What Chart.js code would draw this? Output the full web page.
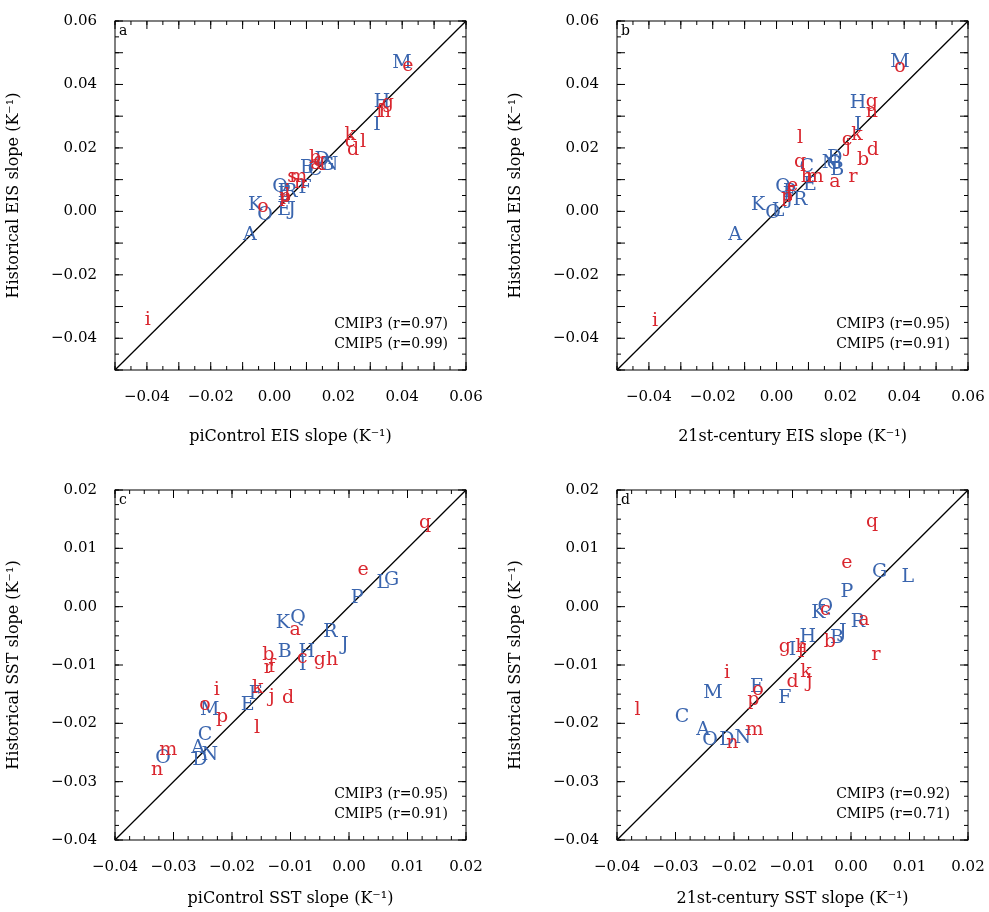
<!DOCTYPE html>
<html>
<head>
<meta charset="utf-8">
<script src="https://cdn.jsdelivr.net/npm/chart.js@4"></script>
<style>
body { margin: 0; background: #fff; width: 989px; height: 912px; position: relative; overflow: hidden; }
canvas { position: absolute; }
</style>
</head>
<body>
<canvas id="ca" style="left:0px;top:0px;width:500px;height:450px"></canvas>
<canvas id="cb" style="left:502px;top:0px;width:487px;height:450px"></canvas>
<canvas id="cc" style="left:0px;top:469px;width:500px;height:443px"></canvas>
<canvas id="cd" style="left:502px;top:469px;width:487px;height:443px"></canvas>
<script>
// CMIP3 models = lowercase (red), CMIP5 models = uppercase (blue)
const eisTicks = [-0.04, -0.02, 0.00, 0.02, 0.04, 0.06];
const sstTicks = [-0.04, -0.03, -0.02, -0.01, 0.00, 0.01, 0.02];

const namesA3 = ['a','b','c','d','e','f','g','h','i','j','k','l','m','n','o','p','q','r','s'];
const xA3 = [0.013, 0.0127, 0.0237, 0.0246, 0.0418, 0.033, 0.0355, 0.0346, -0.0397, 0.004, 0.0237, 0.0277, 0.0074, 0.008, -0.0036, 0.0033, 0.014, 0.003, 0.0055];
const yA3 = [0.015, 0.0168, 0.0219, 0.0193, 0.0458, 0.0313, 0.0342, 0.0313, -0.0342, 0.006, 0.0241, 0.0219, 0.0109, 0.009, 0.0014, 0.0045, 0.016, 0.004, 0.0109];
const namesA5 = ['A','B','C','D','E','F','G','H','I','J','K','L','M','N','O','P','Q','R'];
const xA5 = [-0.0077, 0.0102, 0.0127, 0.0149, 0.003, 0.0096, 0.0164, 0.0337, 0.0321, 0.0055, -0.0061, 0.003, 0.0399, 0.0174, -0.003, 0.003, 0.0017, 0.005];
const yA5 = [-0.0075, 0.0137, 0.0131, 0.0162, 0.0004, 0.0074, 0.0146, 0.0345, 0.0272, 0.0004, 0.002, 0.005, 0.0468, 0.0146, -0.0012, 0.006, 0.0077, 0.006];

const namesB3 = ['a','b','c','d','e','f','g','h','i','j','k','l','m','n','o','p','q','r'];
const xB3 = [0.0183, 0.0271, 0.0221, 0.0302, 0.005, 0.004, 0.0299, 0.0095, -0.0381, 0.0224, 0.0252, 0.0074, 0.012, 0.0299, 0.0387, 0.0033, 0.0074, 0.024];
const yB3 = [0.0093, 0.0162, 0.0225, 0.0193, 0.008, 0.005, 0.0345, 0.0109, -0.0346, 0.0203, 0.0241, 0.0231, 0.0109, 0.0313, 0.0455, 0.0045, 0.0156, 0.0109];
const namesB5 = ['A','B','C','D','E','F','G','H','I','J','K','L','M','N','O','P','Q','R'];
const xB5 = [-0.013, 0.019, 0.0095, 0.0183, 0.0105, 0.004, 0.018, 0.0255, 0.0255, 0.004, -0.0058, 0.0005, 0.0387, 0.0168, -0.0011, 0.004, 0.002, 0.0074];
const yB5 = [-0.0075, 0.0131, 0.014, 0.0168, 0.0083, 0.005, 0.015, 0.0342, 0.0272, 0.004, 0.002, 0.0002, 0.0471, 0.0153, -0.0005, 0.006, 0.0077, 0.0036];

const namesC3 = ['a','b','c','d','e','f','g','h','i','j','k','l','m','n','o','p','q','r'];
const xC3 = [-0.0092, -0.0138, -0.008, -0.0104, 0.0024, -0.0132, -0.005, -0.0029, -0.0226, -0.0132, -0.0156, -0.0157, -0.0309, -0.0328, -0.0246, -0.0217, 0.013, -0.0138];
const yC3 = [-0.004, -0.0083, -0.0088, -0.0157, 0.0063, -0.0103, -0.0091, -0.0091, -0.0143, -0.0155, -0.014, -0.0208, -0.0246, -0.028, -0.0169, -0.0189, 0.0143, -0.0105];
const namesC5 = ['A','B','C','D','E','F','G','H','I','J','K','L','M','N','O','P','Q','R'];
const xC5 = [-0.0258, -0.011, -0.0246, -0.0255, -0.0173, -0.016, 0.0073, -0.0072, -0.0079, -0.0007, -0.0113, 0.0058, -0.0238, -0.0238, -0.0318, 0.0014, -0.0087, -0.0032];
const yC5 = [-0.0242, -0.0078, -0.022, -0.0263, -0.0169, -0.015, 0.0046, -0.0078, -0.01, -0.0066, -0.0028, 0.0041, -0.0177, -0.0254, -0.026, 0.0015, -0.0019, -0.0043];

const namesD3 = ['a','b','c','d','e','f','g','h','i','j','k','l','m','n','o','p','q','r'];
const xD3 = [0.0022, -0.0036, -0.0044, -0.01, -0.0007, -0.0085, -0.0113, -0.0085, -0.0212, -0.0071, -0.0077, -0.0365, -0.0165, -0.0203, -0.0159, -0.0167, 0.0036, 0.0043];
const yD3 = [-0.0023, -0.006, -0.0006, -0.0129, 0.0075, -0.0078, -0.0069, -0.007, -0.0114, -0.0129, -0.0112, -0.0177, -0.0211, -0.0234, -0.0143, -0.016, 0.0145, -0.0083];
const namesD5 = ['A','B','C','D','E','F','G','H','I','J','K','L','M','N','O','P','Q','R'];
const xD5 = [-0.0253, -0.0024, -0.0289, -0.0212, -0.0161, -0.0113, 0.0049, -0.0074, -0.01, -0.0014, -0.0056, 0.0097, -0.0236, -0.0185, -0.0241, -0.0007, -0.0044, 0.0012];
const yD5 = [-0.0211, -0.0054, -0.0189, -0.0229, -0.0137, -0.0157, 0.0059, -0.0052, -0.0074, -0.0043, -0.0011, 0.0051, -0.0148, -0.0225, -0.0229, 0.0025, -0.0001, -0.0026];

const RED = '#d9262e', BLUE = '#3a65ae';
const FONT = '"DejaVu Serif", serif';
const minus = s => s.replace('-', '\u2212');

const boxPlugin = {
  id: 'box',
  afterDatasetsDraw(chart, args, opts) {
    const ctx = chart.ctx, a = chart.chartArea;
    const xs = chart.scales.x, ys = chart.scales.y;
    ctx.save();
    // letter labels
    ctx.font = '19px ' + FONT;
    ctx.textAlign = 'center';
    ctx.textBaseline = 'middle';
    chart.data.datasets.forEach((ds, i) => {
      if (!ds.names) return;
      ctx.fillStyle = ds.color;
      chart.getDatasetMeta(i).data.forEach((pt, j) => ctx.fillText(ds.names[j], pt.x, pt.y));
    });
    // frame
    ctx.strokeStyle = '#000';
    ctx.lineWidth = 1;
    ctx.strokeRect(a.left, a.top, a.right - a.left, a.bottom - a.top);
    // inward ticks
    const ticks = (scale, step, len, horiz) => {
      const n = Math.round((scale.max - scale.min) / step);
      for (let k = 0; k <= n; k++) {
        const v = scale.min + k * step;
        const p = scale.getPixelForValue(v);
        ctx.beginPath();
        if (horiz) {
          ctx.moveTo(p, a.bottom); ctx.lineTo(p, a.bottom - len);
          ctx.moveTo(p, a.top); ctx.lineTo(p, a.top + len);
        } else {
          ctx.moveTo(a.left, p); ctx.lineTo(a.left + len, p);
          ctx.moveTo(a.right, p); ctx.lineTo(a.right - len, p);
        }
        ctx.stroke();
      }
    };
    ticks(xs, opts.minor, 4, true); ticks(ys, opts.minor, 4, false);
    ticks(xs, opts.major, 8, true); ticks(ys, opts.major, 8, false);
    // panel letter and stats
    ctx.fillStyle = '#000';
    ctx.font = '14px ' + FONT;
    ctx.textAlign = 'left';
    ctx.textBaseline = 'top';
    ctx.fillText(opts.letter, a.left + 4, a.top + 3);
    ctx.textAlign = 'right';
    ctx.textBaseline = 'alphabetic';
    ctx.fillText(opts.r3, a.right - 18, a.bottom - 42);
    ctx.fillText(opts.r5, a.right - 18, a.bottom - 22);
    ctx.restore();
  }
};

function makePanel(id, n3, x3, y3, n5, x5, y5, lim, tickVals, xTitle, yTitle, xAxisH, padR, opts) {
  const pts = (xs, ys) => xs.map((v, i) => ({ x: v, y: ys[i] }));
  new Chart(document.getElementById(id), {
    type: 'scatter',
    data: {
      datasets: [
        { data: [{ x: lim[0], y: lim[0] }, { x: lim[1], y: lim[1] }], showLine: true, borderColor: '#000', borderWidth: 1.3, pointRadius: 0 },
        { data: pts(x5, y5), names: n5, color: BLUE, pointRadius: 0 },
        { data: pts(x3, y3), names: n3, color: RED, pointRadius: 0 }
      ]
    },
    options: {
      responsive: false,
      animation: false,
      layout: { padding: { top: 21, right: padR } },
      plugins: { legend: { display: false }, tooltip: { enabled: false }, box: opts },
      scales: {
        x: {
          min: lim[0], max: lim[1],
          afterBuildTicks: s => { s.ticks = tickVals.map(v => ({ value: v })); },
          afterFit: s => { s.height = xAxisH; s.paddingLeft = 0; s.paddingRight = 0; },
          grid: { display: false }, border: { display: false },
          ticks: { font: { family: FONT, size: 15 }, color: '#000', padding: 10, callback: v => minus(v.toFixed(2)) },
          title: { display: true, text: xTitle, font: { family: FONT, size: 16 }, color: '#000', padding: { top: 8 } }
        },
        y: {
          min: lim[0], max: lim[1],
          afterBuildTicks: s => { s.ticks = tickVals.map(v => ({ value: v })); },
          afterFit: s => { s.width = 115; s.paddingTop = 0; s.paddingBottom = 0; },
          grid: { display: false }, border: { display: false },
          ticks: { font: { family: FONT, size: 15 }, color: '#000', padding: 10, callback: v => minus(v.toFixed(2)) },
          title: { display: true, text: yTitle, font: { family: FONT, size: 16 }, color: '#000', padding: { bottom: 6 } }
        }
      }
    },
    plugins: [boxPlugin]
  });
}

function sizeCanvas(id) {
  const c = document.getElementById(id);
  c.width = parseInt(c.style.width); c.height = parseInt(c.style.height);
}
['ca', 'cb', 'cc', 'cd'].forEach(sizeCanvas);

makePanel('ca', namesA3, xA3, yA3, namesA5, xA5, yA5, [-0.05, 0.06], eisTicks,
  'piControl EIS slope (K\u207B\u00B9)', 'Historical EIS slope (K\u207B\u00B9)', 80, 34,
  { letter: 'a', r3: 'CMIP3 (r=0.97)', r5: 'CMIP5 (r=0.99)', major: 0.01, minor: 0.005 });
makePanel('cb', namesB3, xB3, yB3, namesB5, xB5, yB5, [-0.05, 0.06], eisTicks,
  '21st-century EIS slope (K\u207B\u00B9)', 'Historical EIS slope (K\u207B\u00B9)', 80, 21,
  { letter: 'b', r3: 'CMIP3 (r=0.95)', r5: 'CMIP5 (r=0.91)', major: 0.01, minor: 0.005 });
makePanel('cc', namesC3, xC3, yC3, namesC5, xC5, yC5, [-0.04, 0.02], sstTicks,
  'piControl SST slope (K\u207B\u00B9)', 'Historical SST slope (K\u207B\u00B9)', 72, 34,
  { letter: 'c', r3: 'CMIP3 (r=0.95)', r5: 'CMIP5 (r=0.91)', major: 0.01, minor: 0.0025 });
makePanel('cd', namesD3, xD3, yD3, namesD5, xD5, yD5, [-0.04, 0.02], sstTicks,
  '21st-century SST slope (K\u207B\u00B9)', 'Historical SST slope (K\u207B\u00B9)', 72, 21,
  { letter: 'd', r3: 'CMIP3 (r=0.92)', r5: 'CMIP5 (r=0.71)', major: 0.01, minor: 0.0025 });
</script>
</body>
</html>
